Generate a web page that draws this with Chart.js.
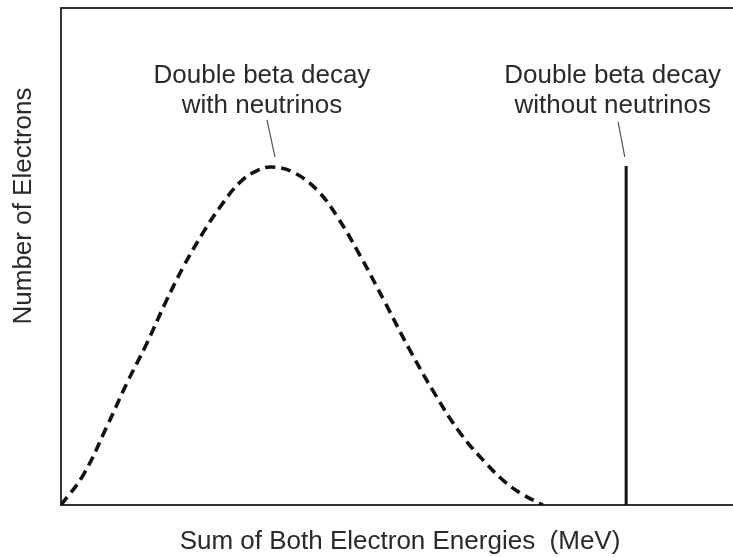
<!DOCTYPE html>
<html><head><meta charset="utf-8">
<script src="https://cdn.jsdelivr.net/npm/chart.js@4.4.1/dist/chart.umd.min.js"></script>
<style>html,body{margin:0;padding:0;background:#fff}#wrap{width:733px;height:557px;position:relative}</style>
</head><body><div id="wrap"><canvas id="c" width="733" height="557"></canvas></div>
<script>
// Two-neutrino double beta decay spectrum (arbitrary units)
const energies2nu = [0, 0.33, 0.68, 0.98, 1.28, 1.55, 1.82, 2.11, 2.37, 2.66, 2.92, 3.14, 3.45, 3.81, 4.12, 4.45, 4.82, 5.19, 5.57, 5.94, 6.31, 6.61, 6.86, 7.17];
const counts2nu   = [0, 6.0, 15.7, 24.5, 32.6, 40.6, 47.9, 54.7, 60.0, 64.9, 67.3, 68.0, 67.0, 63.4, 57.8, 50.2, 40.8, 31.2, 22.2, 14.5, 8.6, 4.6, 2.2, 0];
// Neutrinoless double beta decay line
const energy0nu = [8.41, 8.41];
const counts0nu = [0, 68.2];
// Annotation texts and anchors (data units)
const noteLeftText  = ["Double beta decay", "with neutrinos"];
const noteRightText = ["Double beta decay", "without neutrinos"];
const noteLeftAt  = {x: 2.99, y: 84.9};
const noteRightAt = {x: 8.21, y: 84.9};
const leaderLeftX  = [3.065, 3.185];
const leaderLeftY  = [77.5, 70.0];
const leaderRightX = [8.29, 8.39];
const leaderRightY = [77.1, 70.0];
const xTitle = "Sum of Both Electron Energies  (MeV)";
const yTitle = "Number of Electrons";

const toXY = (xs, ys) => xs.map((x, i) => ({x, y: ys[i]}));
const FONT = '"Liberation Sans", Arial, Helvetica, sans-serif';

const textPlugin = {
  id: 'texts',
  afterDraw(chart) {
    const {ctx, scales: {x, y}} = chart;
    ctx.save();
    ctx.fillStyle = '#2a2a2a';
    ctx.font = '26px ' + FONT;
    ctx.textAlign = 'center';
    ctx.textBaseline = 'alphabetic';
    const drawNote = (lines, at) => {
      const px = x.getPixelForValue(at.x), py = y.getPixelForValue(at.y);
      lines.forEach((t, i) => ctx.fillText(t, px, py + i * 30));
    };
    drawNote(noteLeftText, noteLeftAt);
    drawNote(noteRightText, noteRightAt);
    ctx.fillText(xTitle, 400, 549);
    ctx.translate(31, 206);
    ctx.rotate(-Math.PI / 2);
    ctx.fillText(yTitle, 0, 0);
    ctx.restore();
  }
};

new Chart(document.getElementById('c'), {
  type: 'line',
  data: {
    datasets: [
      {data: toXY(energies2nu, counts2nu), borderColor: '#111', borderWidth: 3.6, borderDash: [10, 6],
       pointRadius: 0, tension: 0.4, fill: false},
      {data: toXY(energy0nu, counts0nu), borderColor: '#111', borderWidth: 3, pointRadius: 0, fill: false},
      {data: toXY(leaderLeftX, leaderLeftY), borderColor: '#555', borderWidth: 1.2, pointRadius: 0, fill: false},
      {data: toXY(leaderRightX, leaderRightY), borderColor: '#555', borderWidth: 1.2, pointRadius: 0, fill: false}
    ]
  },
  options: {
    responsive: false,
    animation: false,
    devicePixelRatio: 1,
    layout: {padding: {left: 61, top: 8, right: 0, bottom: 52}},
    plugins: {legend: {display: false}, tooltip: {enabled: false}},
    scales: {
      x: {type: 'linear', min: 0, max: 10, position: 'bottom',
          grid: {display: false}, ticks: {display: false},
          border: {display: true, color: '#333', width: 2},
          afterFit(s) { s.height = 0; }},
      x2: {type: 'linear', min: 0, max: 10, position: 'top', display: true,
          grid: {display: false}, ticks: {display: false},
          border: {display: true, color: '#333', width: 2},
          afterFit(s) { s.height = 0; }},
      y: {type: 'linear', min: 0, max: 100,
          grid: {display: false}, ticks: {display: false},
          border: {display: true, color: '#333', width: 2},
          afterFit(s) { s.width = 0; }}
    }
  },
  plugins: [textPlugin]
});
</script>
</body></html>
